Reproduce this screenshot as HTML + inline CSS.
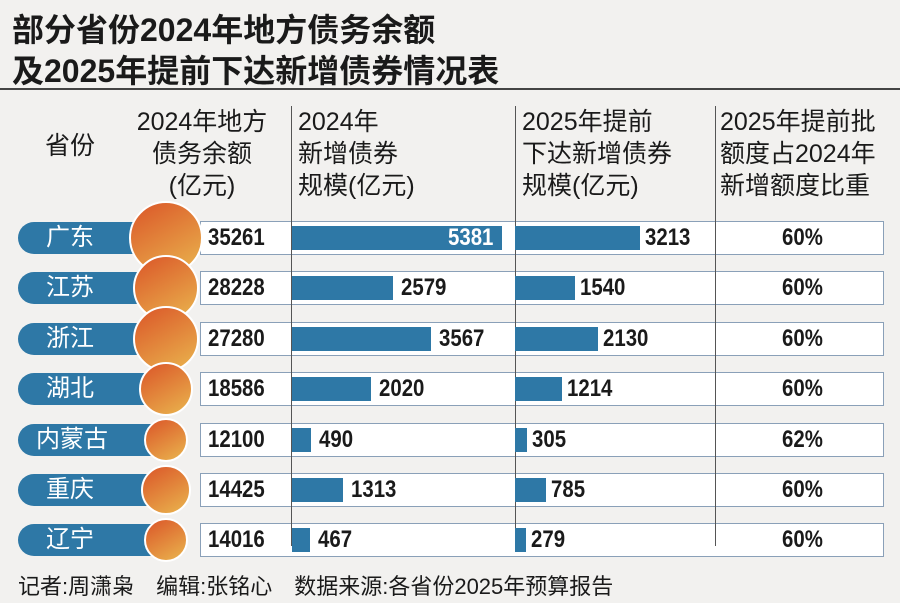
<!DOCTYPE html>
<html><head><meta charset="utf-8"><style>
body{margin:0;width:900px;height:603px;background:#f2f1ef;position:relative;overflow:hidden;font-family:"Liberation Sans","Noto Sans CJK SC",sans-serif;color:#1a1a1a}
.a{position:absolute;white-space:nowrap}
.t{font-size:32px;font-weight:bold;left:12px;line-height:40px}
.h{font-size:25px;line-height:32px}
.v{position:absolute;top:106px;width:1px;height:440px;background:#555;z-index:2}
.strip{position:absolute;left:200px;width:682px;height:32px;background:#fff;border:1px solid #8aa0b8}
.pill{position:absolute;left:18px;width:150px;height:32px;background:#2e78a6;border-radius:16px;color:#fff;font-size:24px;line-height:32px;text-indent:28px}
.c{position:absolute;border-radius:50%;border:2px solid #fff;background:linear-gradient(150deg,#dc5f2c 10%,#e9b04c 95%);z-index:3}
.n{position:absolute;font-size:24px;font-weight:bold;line-height:32px;z-index:4;transform:scaleX(0.85);transform-origin:left center}
.b{position:absolute;height:24px;background:#2e78a6;z-index:3}
</style></head><body>
<div class="a t" style="top:10px">部分省份2024年地方债务余额</div>
<div class="a t" style="top:51px">及2025年提前下达新增债券情况表</div>
<div class="a" style="left:0;top:88px;width:900px;height:2px;background:#444"></div>
<div class="a h" style="left:45px;top:130px">省份</div>
<div class="a h" style="left:128px;top:106px;text-align:center;width:148px">2024年地方<br>债务余额<br>(亿元)</div>
<div class="a h" style="left:298px;top:106px">2024年<br>新增债券<br>规模(亿元)</div>
<div class="a h" style="left:522px;top:106px">2025年提前<br>下达新增债券<br>规模(亿元)</div>
<div class="a h" style="left:720px;top:106px">2025年提前批<br>额度占2024年<br>新增额度比重</div>
<div class="v" style="left:291px"></div><div class="v" style="left:515px"></div><div class="v" style="left:715px"></div>
<div id="rows"></div>
<script>
var d=[["广东",35261,5381,3213,"60%",37],["江苏",28228,2579,1540,"60%",33],["浙江",27280,3567,2130,"60%",33],["湖北",18586,2020,1214,"60%",27],["内蒙古",12100,490,305,"62%",22],["重庆",14425,1313,785,"60%",25],["辽宁",14016,467,279,"60%",22]];
var h="";
d.forEach(function(r,i){var y=221+i*50.4;
h+='<div class="strip" style="top:'+y+'px"></div>';
h+='<div class="pill" style="top:'+(y+1)+'px;'+(r[0].length>2?'text-indent:18px':'')+'">'+r[0]+'</div>';
var cy=y+17,rr=r[5];
h+='<div class="c" style="left:'+(166-rr)+'px;top:'+(cy-rr)+'px;width:'+(2*rr-4)+'px;height:'+(2*rr-4)+'px"></div>';
h+='<div class="n" style="left:208px;top:'+(y+1)+'px">'+r[1]+'</div>';
var w2=r[2]*210/5381;
h+='<div class="b" style="left:292px;top:'+(y+5)+'px;width:'+w2+'px"></div>';
if(i==0)h+='<div class="n" style="left:448px;top:'+(y+1)+'px;color:#fff">'+r[2]+'</div>';
else h+='<div class="n" style="left:'+(292+w2+8)+'px;top:'+(y+1)+'px">'+r[2]+'</div>';
var w3=r[3]*125/3213;
h+='<div class="b" style="left:515px;top:'+(y+5)+'px;width:'+w3+'px"></div>';
h+='<div class="n" style="left:'+(515+w3+5)+'px;top:'+(y+1)+'px">'+r[3]+'</div>';
h+='<div class="n" style="left:782px;top:'+(y+1)+'px">'+r[4]+'</div>';
});
document.getElementById('rows').innerHTML=h;
</script>
<div class="a" style="left:18px;top:569px;font-size:22px">记者:周潇枭　编辑:张铭心　数据来源:各省份2025年预算报告</div>
</body></html>
